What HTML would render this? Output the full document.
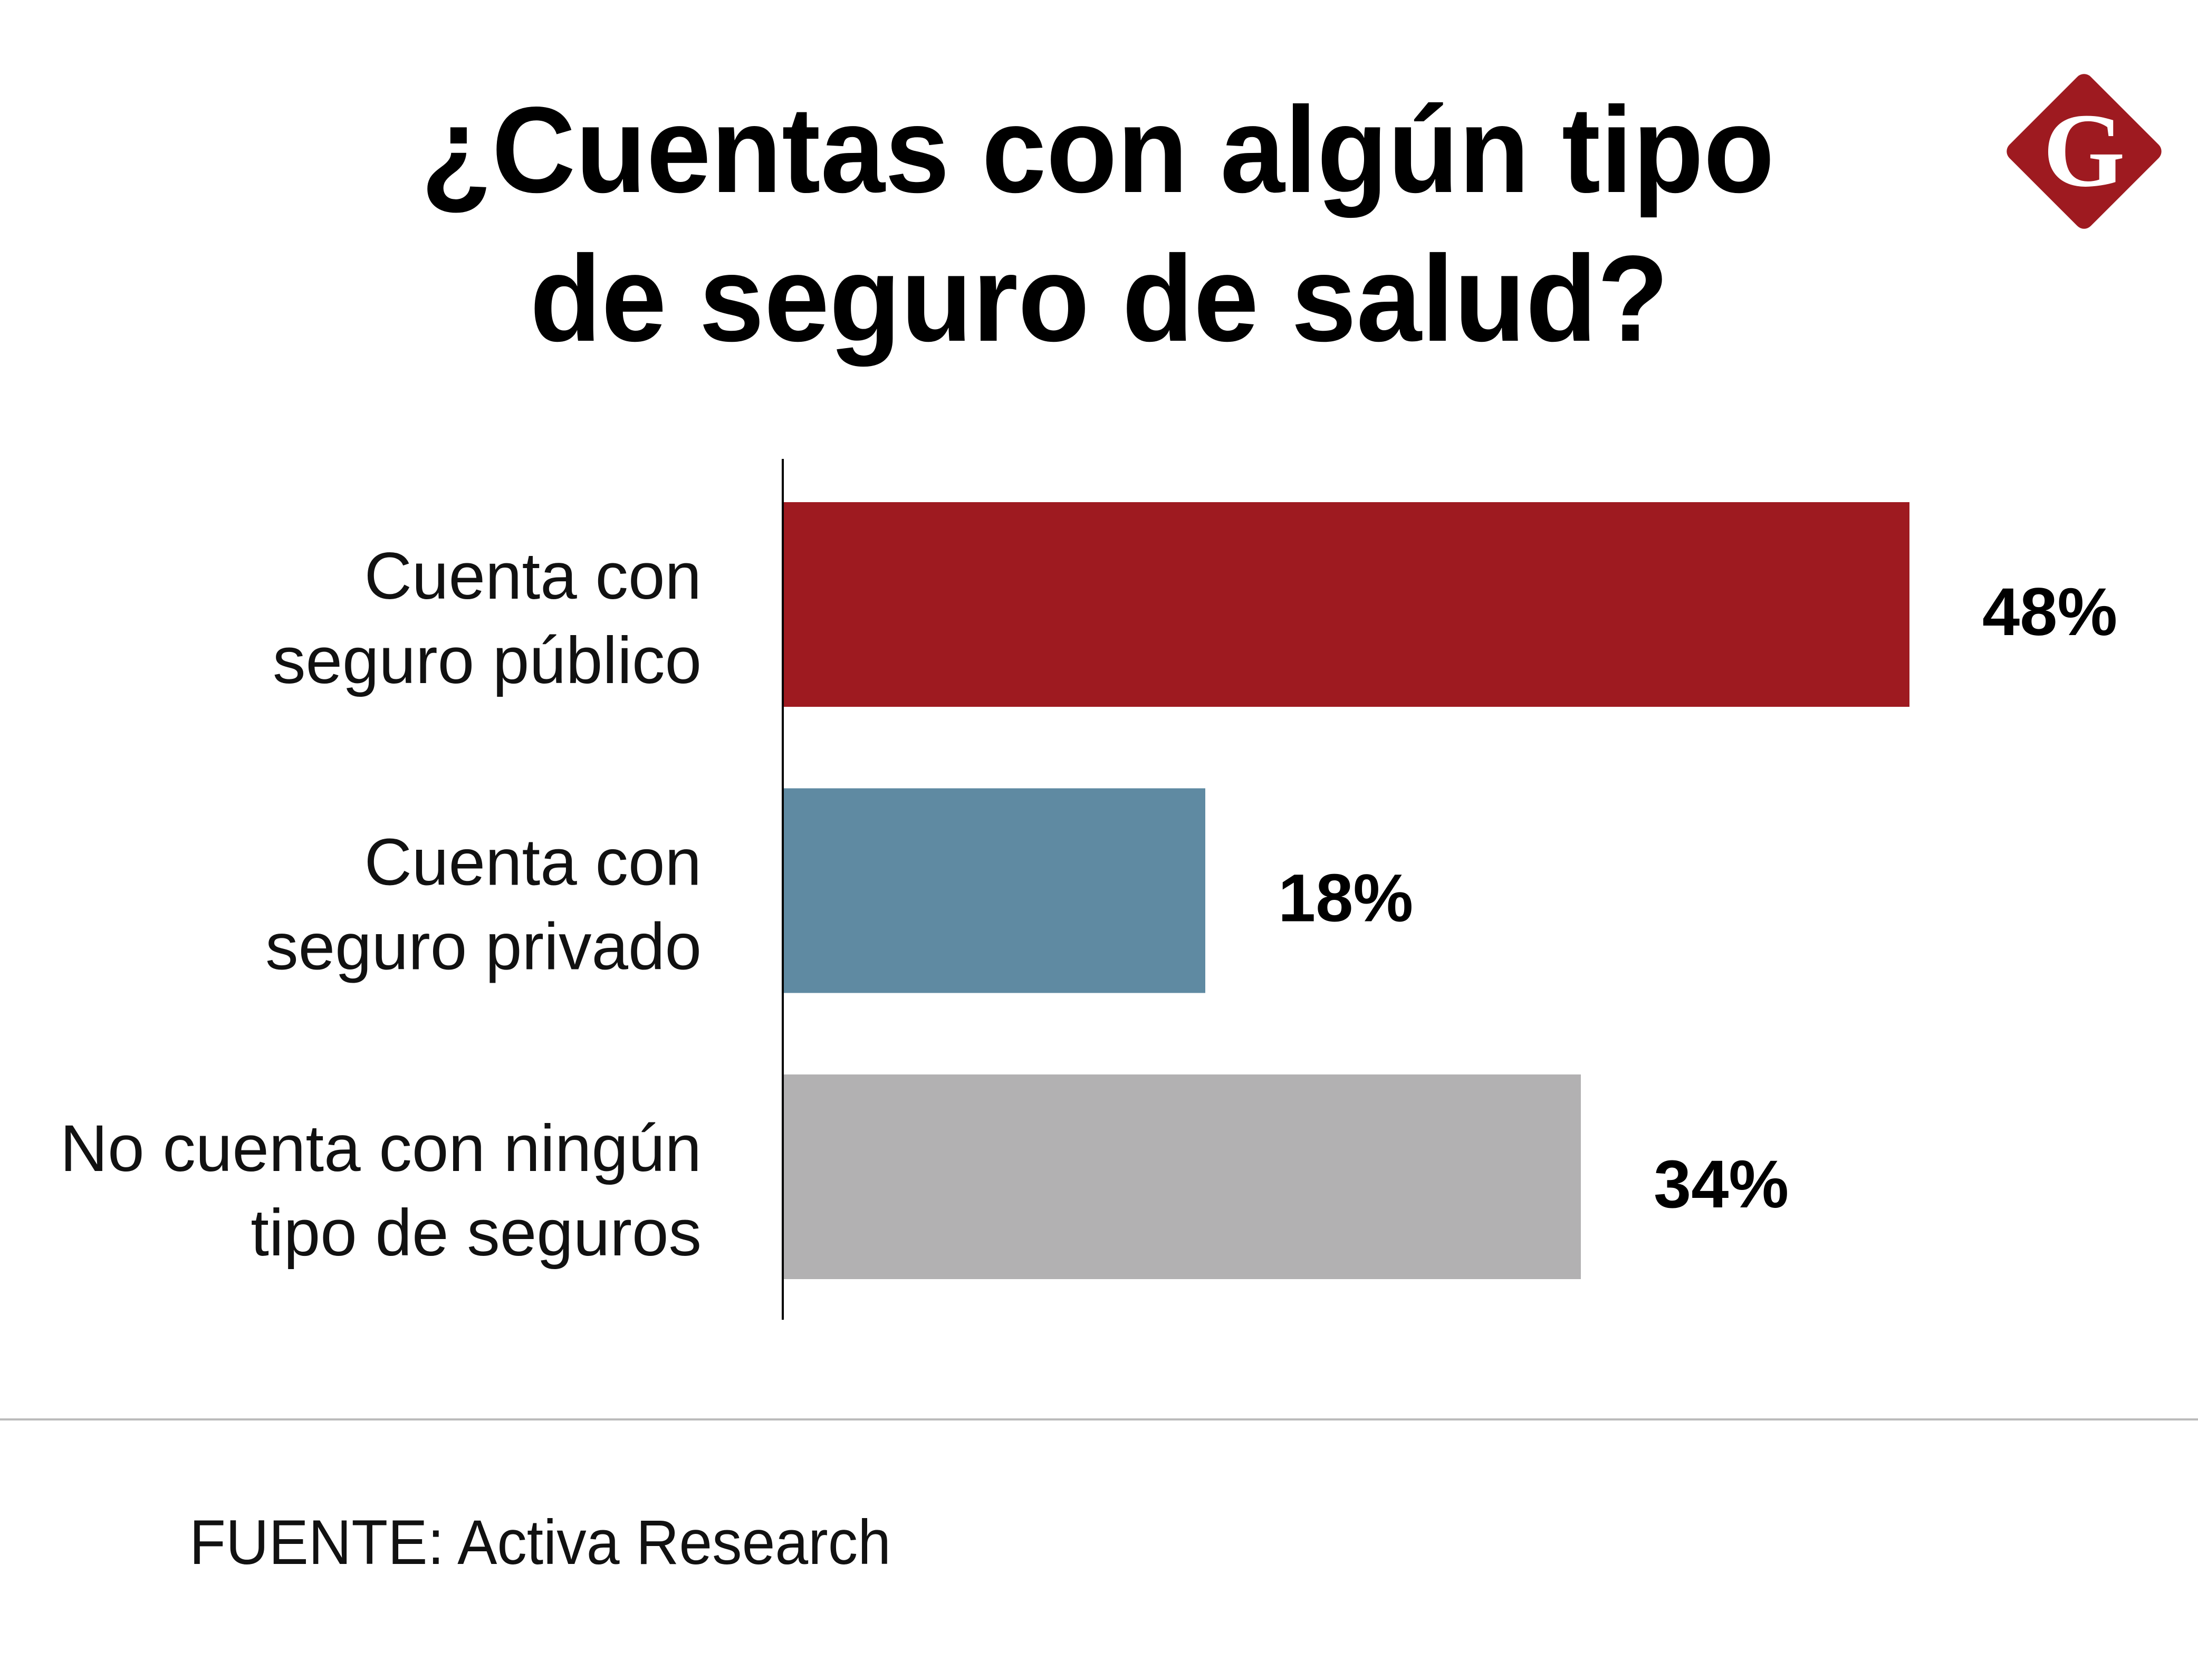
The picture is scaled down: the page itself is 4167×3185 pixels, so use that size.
<!DOCTYPE html>
<html><head><meta charset="utf-8"><style>
html,body{margin:0;padding:0;background:#fff;}
svg{display:block;}
</style></head><body>
<svg id="chart" width="4167" height="3185" viewBox="0 0 4167 3185" xmlns="http://www.w3.org/2000/svg" font-family="'Liberation Sans', sans-serif">
<rect width="4167" height="3185" fill="#fff"/>
<g font-weight="bold" font-size="232" fill="#000" text-anchor="middle">
<text x="2081" y="364" textLength="2566" lengthAdjust="spacingAndGlyphs">¿Cuentas con algún tipo</text>
<text x="2084" y="646" textLength="2159" lengthAdjust="spacingAndGlyphs">de seguro de salud?</text>
</g>
<g>
<rect x="3842" y="178" width="218" height="218" rx="18" fill="#9e1a20" transform="rotate(45 3951 287)"/>
<text x="3951" y="352" text-anchor="middle" font-family="'Liberation Serif', serif" font-weight="bold" font-size="200" fill="#fff">G</text>
</g>
<g id="bars"></g>
<line x1="1484" y1="870" x2="1484" y2="2502" stroke="#000" stroke-width="4"/>
<line x1="0" y1="2691" x2="4167" y2="2691" stroke="#bbb" stroke-width="4"/>
<text x="359" y="2965" font-size="120" fill="#111" textLength="1330" lengthAdjust="spacingAndGlyphs">FUENTE: Activa Research</text>
</svg>
<script>
const categories = [["Cuenta con","seguro público"],["Cuenta con","seguro privado"],["No cuenta con ningún","tipo de seguros"]];
const values = [48, 18, 34];
const valueLabels = ["48%","18%","34%"];
const colors = ["#9e1a20","#5f8aa2","#b2b1b2"];
const NS = "http://www.w3.org/2000/svg";
const x0 = 1484, perPct = 44.5;
const xScale = v => x0 + v * perPct;
const bandTop = i => 952 + i * 542.5;
const barH = 388;
const g = document.getElementById('bars');
values.forEach((v, i) => {
  const y = bandTop(i);
  const r = document.createElementNS(NS, 'rect');
  r.setAttribute('x', x0); r.setAttribute('y', y);
  r.setAttribute('width', xScale(v) - x0); r.setAttribute('height', barH);
  r.setAttribute('fill', colors[i]);
  
  
  g.appendChild(r);
  const t = document.createElementNS(NS, 'text');
  t.setAttribute('x', xScale(v) + 138); t.setAttribute('y', y + 252);
  t.setAttribute('font-size', '128'); t.setAttribute('font-weight', 'bold');
  t.textContent = valueLabels[i];
  
  
  g.appendChild(t);
  categories[i].forEach((line, j) => {
    const c = document.createElementNS(NS, 'text');
    c.setAttribute('x', 1330); c.setAttribute('y', y + 183 + j * 160);
    c.setAttribute('text-anchor', 'end'); c.setAttribute('font-size', '125');
    c.setAttribute('fill', '#111');
    c.textContent = line;
    
    
    g.appendChild(c);
  });
});
</script>
</body></html>
